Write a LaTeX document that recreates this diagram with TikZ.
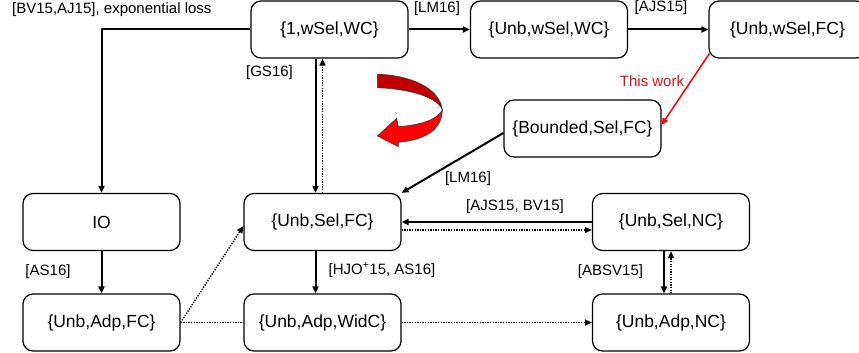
\documentclass[tikz,border=0pt]{standalone}
\usepackage{fontspec}
\setmainfont{Liberation Sans}
\usetikzlibrary{arrows.meta,calc}
\definecolor{darkred}{HTML}{C00000}
\definecolor{brightred}{HTML}{FF0000}
\definecolor{workred}{HTML}{E01010}
\begin{document}
\begin{tikzpicture}[x=1pt,y=-1pt,
 box/.style={draw, line width=1.2pt, rounded corners=10pt, minimum width=157pt, minimum height=57pt, inner sep=0pt, font=\fontsize{17.5}{20}\selectfont},
 lbl/.style={inner sep=0pt, font=\fontsize{15}{18}\selectfont},
 tipa/.style={-{Triangle[length=7pt,width=6pt]}},
 sarr/.style={tipa, line width=2pt},
 darr/.style={tipa, line width=1.4pt, dash pattern=on 1.3pt off 1.3pt},
 dline/.style={line width=1.4pt, dash pattern=on 1.3pt off 1.3pt},
 rarr/.style={tipa, line width=1.5pt, draw=brightred},
 twist/.style={draw=black!75, line width=0.6pt},
]
\useasboundingbox (0,0) rectangle (859,353);

% boxes
\node[box] (t1) at (329.5,29.5) {\{1,wSel,WC\}};
\node[box] (t2) at (549,29.5) {\{Unb,wSel,WC\}};
\node[box] (t3) at (787.5,29.5) {\{Unb,wSel,FC\}};
\node[box] (bsf) at (582.5,128.5) {\{Bounded,Sel,FC\}};
\node[box] (io) at (101.5,222) {IO};
\node[box] (usf) at (322.5,222) {\{Unb,Sel,FC\}};
\node[box] (usn) at (671,222) {\{Unb,Sel,NC\}};
\node[box] (uaf) at (101.5,322.5) {\{Unb,Adp,FC\}};
\node[box] (uaw) at (322.5,322.5) {\{Unb,Adp,WidC\}};
\node[box] (uan) at (671,322.5) {\{Unb,Adp,NC\}};

% labels
\node[lbl, anchor=west] (lbv) at (12,10) {[BV15,AJ15], exponential loss};
\node[lbl] (llm1) at (437,9) {[LM16]};
\node[lbl] (lajs) at (661,7.5) {[AJS15]};
\node[lbl, text=workred] (lwork) at (652,81) {This work};
\node[lbl] (lgs) at (269.5,73) {[GS16]};
\node[lbl] (llm2) at (468,179) {[LM16]};
\node[lbl] (lajsbv) at (515,207) {[AJS15, BV15]};
\node[lbl] (las) at (48,271.5) {[AS16]};
\node[lbl] (lhjo) at (382,270) {[HJO\textsuperscript{+}15, AS16]};
\node[lbl] (labsv) at (610.5,272) {[ABSV15]};

% connectors
\draw[sarr] (t1.west) -| (io.north);
\draw[sarr] (t1.east) -- (t2.west);
\draw[sarr] (t2.east) -- (t3.west);
\coordinate (rs) at ($(t3.south west)+(1,-5)$);
\coordinate (re) at ($(bsf.east)+(0,-3.5)$);
\draw[rarr] (rs) -- (re);
\coordinate (ls) at ($(bsf.west)+(0,4.5)$);
\draw[sarr] (ls) -- (usf.north east);
\coordinate (gsb) at ($(usf.north)+(-7,0)$);
\draw[sarr] (gsb |- t1.south) -- (gsb);
\draw[darr] (usf.north) -- (usf.north |- t1.south);
\draw[sarr] (io.south) -- (uaf.north);
\coordinate (hjb) at ($(usf.south)+(-7,0)$);
\draw[sarr] (hjb) -- (hjb |- uaw.north);
\draw[sarr] (usn.west) -- (usf.east);
\draw[darr] ($(usf.east)+(0,8)$) -- ($(usn.west)+(0,8)$);
\coordinate (abb) at ($(usn.south)+(-7,0)$);
\draw[sarr] (abb) -- (abb |- uan.north);
\draw[darr] (uan.north) -- (usn.south);
\draw[darr] (uaf.east) -- ($(usf.west)+(0,4)$);
\draw[dline] (uaf.east) -- (uaw.west);
\draw[darr] (uaw.east) -- (uan.west);

% red curved arrow
\fill[darkred, twist] (377.3,74.3) .. controls (410,75) and (440,88) .. (442.3,110)
  .. controls (438,98) and (412,89) .. (377.3,87.7) -- cycle;
\fill[brightred, twist] (442.3,110) .. controls (442,130) and (425,140) .. (398.3,142.3)
  -- (398.3,146.7) -- (377.3,136) -- (396.7,118.3) -- (398.3,126.7)
  .. controls (420,125) and (437,120) .. (442.3,110) -- cycle;
\end{tikzpicture}
\end{document}
